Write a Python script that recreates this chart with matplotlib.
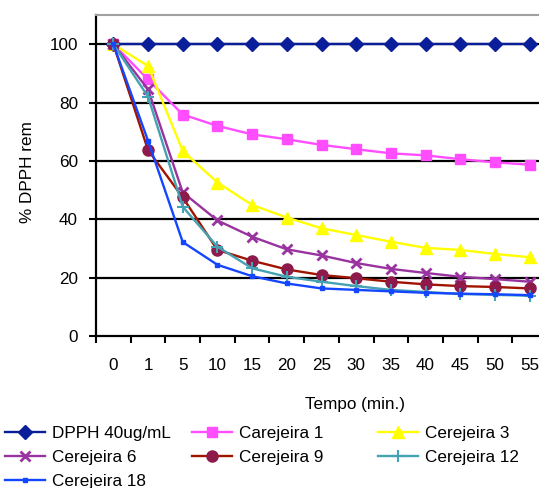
import matplotlib
matplotlib.use("Agg")
import matplotlib.pyplot as plt
import numpy as np

plt.rcParams['font.family'] = ['Liberation Sans', 'DejaVu Sans']

tempo = ["0", "1", "5", "10", "15", "20", "25", "30", "35", "40", "45", "50", "55"]
dpph = [100] * 13
carejeira1 = [100, 87.9, 75.9, 72.0, 69.1, 67.4, 65.5, 64.0, 62.6, 61.9, 60.6, 59.5, 58.7]
cerejeira3 = [100, 92.5, 63.4, 52.6, 44.9, 40.6, 36.9, 34.6, 32.3, 30.2, 29.5, 28.1, 27.0]
cerejeira6 = [100, 84.5, 49.2, 39.6, 34.0, 29.7, 27.6, 25.0, 23.0, 21.6, 20.3, 19.5, 18.6]
cerejeira9 = [100, 63.7, 47.5, 29.5, 25.8, 22.8, 20.9, 19.8, 18.6, 17.7, 17.1, 16.8, 16.3]
cerejeira12 = [100, 82.0, 44.3, 30.6, 23.2, 20.3, 18.6, 17.1, 15.8, 15.1, 14.4, 14.1, 13.8]
cerejeira18 = [100, 66.9, 32.2, 24.4, 20.5, 18.0, 16.3, 15.8, 15.3, 14.8, 14.5, 14.3, 14.0]

FS = 12.3

fig = plt.figure(figsize=(5.39, 4.88), dpi=100)
ax = fig.add_axes([96/539, 1-336/488, (547-96)/539, (336-15)/488])

x = np.arange(len(tempo))
series = [
    ("DPPH 40ug/mL", dpph, dict(color="#0A1E9A", marker="D", ms=7, mfc="#0A1E9A", mec="#0A1E9A")),
    ("Carejeira 1", carejeira1, dict(color="#FF4DFF", marker="s", ms=7, mfc="#FF4DFF", mec="#FF4DFF")),
    ("Cerejeira 3", cerejeira3, dict(color="#FFFF00", marker="^", ms=8, mfc="#FFFF00", mec="#FFFF00")),
    ("Cerejeira 6", cerejeira6, dict(color="#9933A0", marker="x", ms=7, mew=2, mfc="#9933A0", mec="#9933A0")),
    ("Cerejeira 9", cerejeira9, dict(color="#A01400", marker="o", ms=8, mfc="#8E1A4C", mec="#8E1A4C")),
    ("Cerejeira 12", cerejeira12, dict(color="#45A2B2", marker="+", ms=9, mew=1.5, mfc="#45A2B2", mec="#45A2B2")),
    ("Cerejeira 18", cerejeira18, dict(color="#1446FF", marker="s", ms=3.5, mfc="#1446FF", mec="#1446FF")),
]
handles = {}
for name, vals, st in series:
    ln, = ax.plot(x, vals, lw=1.7, label=name, clip_on=False, **st)
    handles[name] = ln

ax.set_xlim(-0.5, 12.5)
ax.set_ylim(0, 110)
ax.set_yticks([0, 20, 40, 60, 80, 100])
ax.set_xticks(x)
ax.set_xticklabels(tempo)
ax.set_xticks(np.arange(-0.5, 13, 1), minor=True)
ax.tick_params(axis='x', which='major', length=0, pad=16, labelsize=FS)
ax.tick_params(axis='x', which='minor', length=5, width=1.5, direction='out')
ax.tick_params(axis='y', length=5, width=1.5, direction='out', pad=8, labelsize=FS)
for y in [20, 40, 60, 80, 100]:
    ax.axhline(y, color='black', lw=1.6, zorder=0.5)
ax.spines['left'].set_linewidth(1.6)
ax.spines['bottom'].set_linewidth(1.6)
ax.spines['top'].set_color('#A0A0A0')
ax.spines['top'].set_linewidth(1.5)
ax.spines['right'].set_visible(False)

fig.text(28/539, 1-172/488, "% DPPH rem", rotation=90, ha='center', va='center', fontsize=FS)
fig.text(355/539, 1-405/488, "Tempo (min.)", ha='center', va='center', fontsize=FS)

cols = [
    (5, ["DPPH 40ug/mL", "Cerejeira 6", "Cerejeira 18"]),
    (192, ["Carejeira 1", "Cerejeira 9"]),
    (378, ["Cerejeira 3", "Cerejeira 12"]),
]
for xpix, names in cols:
    hs = [handles[n] for n in names]
    fig.legend(hs, names, loc='upper left', bbox_to_anchor=(xpix/539, 1-426/488),
               frameon=False, fontsize=FS, handlelength=2.35, handletextpad=0.4,
               labelspacing=0.52, borderaxespad=0, borderpad=0)

fig.savefig("out.png", dpi=100)
